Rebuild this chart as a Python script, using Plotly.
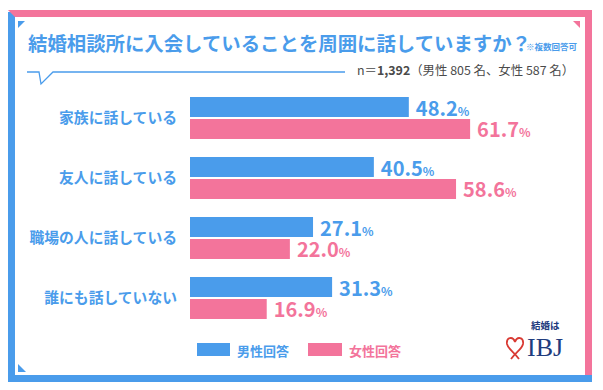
import plotly.graph_objects as go

categories = ["家族に話している", "友人に話している", "職場の人に話している", "誰にも話していない"]
male = [48.2, 40.5, 27.1, 31.3]
female = [61.7, 58.6, 22.0, 16.9]
series_names = ["男性回答", "女性回答"]
title_text = "結婚相談所に入会していることを周囲に話していますか？"
note_text = "※複数回答可"
n_text = "n＝<b>1,392</b>（男性 805 名、女性 587 名）"

BLUE = "#4A9CEB"
PINK = "#F3749B"
NAVY = "#1F3C7E"
RED = "#D93A33"
FONT = "Noto Sans CJK JP"

W_FIG, H_FIG = 603, 390
ML, MR, MT, MB = 190, 31, 88, 62
PW = W_FIG - ML - MR
PH = H_FIG - MT - MB


def px(x):
    return (x - ML) / PW


def py(y):
    return (H_FIG - MB - y) / PH


def pt(x, y):
    return f"{px(x):.5f},{py(y):.5f}"


def path(points):
    return "M " + " L ".join(pt(x, y) for x, y in points) + " Z"


def open_path(points):
    return "M " + " L ".join(pt(x, y) for x, y in points)


label_tmpl = "\u2009%{x:.1f}<span style='font-size:12px'>%</span>"

fig = go.Figure()
fig.add_trace(go.Bar(
    y=categories, x=male, name=series_names[0], orientation="h",
    marker=dict(color=BLUE, line=dict(width=0)),
    texttemplate=label_tmpl, textposition="outside", constraintext="none",
    cliponaxis=False,
    textfont=dict(family=FONT, size=20, color=BLUE, weight="bold"),
    hoverinfo="skip",
))
fig.add_trace(go.Bar(
    y=categories, x=female, name=series_names[1], orientation="h",
    marker=dict(color=PINK, line=dict(width=0)),
    texttemplate=label_tmpl, textposition="outside", constraintext="none",
    cliponaxis=False,
    textfont=dict(family=FONT, size=20, color=PINK, weight="bold"),
    hoverinfo="skip",
))

shapes = []
# frame
shapes.append(dict(type="rect", xref="paper", yref="paper", x0=px(8), x1=px(15), y0=py(382), y1=py(12),
                   fillcolor=BLUE, line=dict(width=0), layer="below"))
shapes.append(dict(type="path", xref="paper", yref="paper",
                   path=path([(8, 375), (592, 375), (592, 382), (8, 382)]),
                   fillcolor=BLUE, line=dict(width=0), layer="below"))
shapes.append(dict(type="path", xref="paper", yref="paper",
                   path=path([(8, 10), (592, 10), (592, 375), (585, 375), (585, 17), (15, 17)]),
                   fillcolor=PINK, line=dict(width=0), layer="below"))
# corner triangles
shapes.append(dict(type="path", xref="paper", yref="paper",
                   path=path([(18, 21), (25, 21), (18, 28)]), fillcolor=BLUE, line=dict(width=0)))
shapes.append(dict(type="path", xref="paper", yref="paper",
                   path=path([(573, 21), (580, 21), (580, 28)]), fillcolor=PINK, line=dict(width=0)))
shapes.append(dict(type="path", xref="paper", yref="paper",
                   path=path([(18, 364), (18, 372), (26, 372)]), fillcolor=BLUE, line=dict(width=0)))
# speech line
shapes.append(dict(type="path", xref="paper", yref="paper",
                   path=open_path([(27, 72), (39, 72), (41, 84), (53, 72), (345, 72)]),
                   line=dict(color=BLUE, width=1.3)))
# legend swatches
shapes.append(dict(type="rect", xref="paper", yref="paper", x0=px(197), x1=px(230), y0=py(356), y1=py(343),
                   fillcolor=BLUE, line=dict(width=0)))
shapes.append(dict(type="rect", xref="paper", yref="paper", x0=px(308), x1=px(342), y0=py(356), y1=py(343),
                   fillcolor=PINK, line=dict(width=0)))
# logo heart (ribbon style)
heart = (f"M {pt(515, 342)} C {pt(513, 336)} {pt(506, 337)} {pt(507, 344)} "
         f"C {pt(508, 349)} {pt(514, 352)} {pt(519, 359)} "
         f"M {pt(515, 342)} C {pt(517, 336)} {pt(524, 337)} {pt(523, 344)} "
         f"C {pt(522, 349)} {pt(516, 352)} {pt(511, 359)}")
shapes.append(dict(type="path", xref="paper", yref="paper", path=heart,
                   line=dict(color=RED, width=1.8)))

annotations = [
    dict(text=title_text, x=px(26), y=py(42), xanchor="left", yanchor="middle",
         font=dict(family=FONT, size=19.4, color=BLUE, weight="bold")),
    dict(text=note_text, x=px(524), y=py(46), xanchor="left", yanchor="middle",
         font=dict(family=FONT, size=8.5, color=BLUE, weight="bold")),
    dict(text=n_text, x=px(576), y=py(70), xanchor="right", yanchor="middle",
         font=dict(family=FONT, size=12.4, color="#4a4a4a")),
    dict(text=series_names[0], x=px(235), y=py(350), xanchor="left", yanchor="middle",
         font=dict(family=FONT, size=13, color=BLUE, weight="bold")),
    dict(text=series_names[1], x=px(347), y=py(350), xanchor="left", yanchor="middle",
         font=dict(family=FONT, size=13, color=PINK, weight="bold")),
    dict(text="結婚は", x=px(545), y=py(325), xanchor="center", yanchor="middle",
         font=dict(family=FONT, size=9.5, color=NAVY, weight="bold")),
    dict(text="IBJ", x=px(525), y=py(347), xanchor="left", yanchor="middle",
         font=dict(family="Liberation Serif", size=26, color=NAVY)),
]
for a in annotations:
    a.update(xref="paper", yref="paper", showarrow=False)

fig.update_layout(
    width=W_FIG, height=H_FIG,
    margin=dict(l=ML, r=MR, t=MT, b=MB, pad=0),
    paper_bgcolor="white", plot_bgcolor="white",
    barmode="group", bargap=0.267, bargroupgap=0.09,
    showlegend=False,
    shapes=shapes, annotations=annotations,
    xaxis=dict(range=[0, PW / 4.54], visible=False, showgrid=False, zeroline=False, fixedrange=True),
    yaxis=dict(autorange="reversed", showgrid=False, zeroline=False, showline=False, ticks="",
               ticklabelstandoff=12,
               tickfont=dict(family=FONT, size=14.8, color=BLUE, weight="bold"), fixedrange=True),
)

fig.write_html("out.html", include_plotlyjs=True, config={"displayModeBar": False},
               post_script="document.body.style.margin='0';document.body.style.overflow='hidden';")
